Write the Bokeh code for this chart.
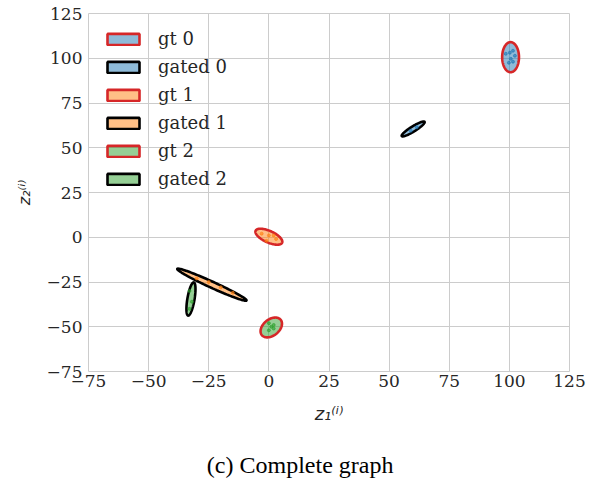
import numpy as np
from bokeh.plotting import figure
from bokeh.models import Legend, LegendItem, FixedTicker, LinearAxis
from bokeh.embed import file_html
from bokeh.resources import INLINE

# ellipse data (data space): centre, full major/minor axis, angle (deg)
labels = ["gt 0", "gated 0", "gt 1", "gated 1", "gt 2", "gated 2"]
ell_cx = [100.5, 60.0, 0.0, -23.7, 1.0, -32.4]
ell_cy = [100.6, 60.5, 0.3, -26.5, -50.4, -34.5]
ell_w = [7.0, 12.4, 13.0, 33.8, 12.0, 18.7]
ell_h = [16.8, 2.6, 6.0, 3.2, 7.6, 3.0]
ell_angle = [0.0, 40.6, -35.0, -31.6, 60.0, 82.9]
ell_cluster = [0, 0, 1, 1, 2, 2]
ell_edge = ["#d62728", "black", "#d62728", "black", "#d62728", "black"]

cluster_colors = ["#1f77b4", "#ff7f0e", "#2ca02c"]

# sample points
pts_x0 = [98.5, 100.2, 102.3, 100.6, 101.5, 99.8, 101.5, 59.0, 61.5]
pts_y0 = [102.5, 103.1, 101.4, 99.7, 98.1, 97.5, 104.2, 59.5, 61.5]
pts_x1 = [-3.0, 0.0, 3.0, -1.0, 2.0, -30.0, -20.0, -15.0, -25.0]
pts_y1 = [2.0, 1.0, -1.0, -2.0, 1.0, -23.0, -28.0, -31.0, -25.0]
pts_x2 = [0.0, 1.0, 2.0, 0.0, 2.0, -33.0, -32.0, -33.0]
pts_y2 = [-48.0, -50.0, -49.0, -52.0, -51.0, -30.0, -36.0, -40.0]

ticks = [-75, -50, -25, 0, 25, 50, 75, 100, 125]
tick_labels = ["\u221275", "\u221250", "\u221225", "0", "25", "50", "75", "100", "125"]
caption = "(c) Complete graph"
caption_x = 13  # horizontal centre of the caption, in x data units

p = figure(width=586, height=480, x_range=(-75, 125), y_range=(-75, 125),
           output_backend="svg", toolbar_location=None,
           min_border_left=88, min_border_right=17, min_border_top=13,
           min_border_bottom=108)
p.background_fill_color = "white"
p.border_fill_color = "white"
p.outline_line_color = "#cccccc"

for ax, lab in ((p.xaxis, "z\u2081\u207d\u2071\u207e"), (p.yaxis, "z\u2082\u207d\u2071\u207e")):
    ax.ticker = FixedTicker(ticks=ticks)
    ax.major_label_overrides = {t: l for t, l in zip(ticks, tick_labels)}
    ax.major_label_text_font = "DejaVu Serif"
    ax.major_label_text_font_size = "17px"
    ax.major_label_text_color = "#262626"
    ax.major_tick_out = 0
    ax.major_tick_in = 0
    ax.minor_tick_out = 0
    ax.minor_tick_in = 0
    ax.axis_line_color = None
    ax.axis_label = lab
    ax.axis_label_text_font = "DejaVu Sans"
    ax.axis_label_text_font_style = "italic"
    ax.axis_label_text_color = "#262626"
p.xaxis.major_label_standoff = 3
p.yaxis.major_label_standoff = 6
p.xaxis.axis_label_text_font_size = "18px"
p.xaxis.axis_label_standoff = 13
p.yaxis.axis_label_text_font_size = "16px"
p.yaxis.axis_label_standoff = 10

# caption as a tick label of an extra bare axis below the x axis
cap_axis = LinearAxis(ticker=FixedTicker(ticks=[caption_x]),
                      major_label_overrides={caption_x: caption},
                      major_label_text_font="Liberation Serif",
                      major_label_text_font_size="24px",
                      major_label_text_color="black",
                      major_label_standoff=25,
                      major_tick_out=0, major_tick_in=0,
                      minor_tick_out=0, minor_tick_in=0,
                      axis_line_color=None)
p.add_layout(cap_axis, "below")

p.grid.grid_line_color = "#cccccc"
p.grid.grid_line_width = 1
p.xgrid.ticker = FixedTicker(ticks=ticks)
p.ygrid.ticker = FixedTicker(ticks=ticks)

items = []
for i in range(len(labels)):
    a = np.deg2rad(ell_angle[i])
    t = np.linspace(0, 2 * np.pi, 120)
    xs = ell_cx[i] + ell_w[i] / 2 * np.cos(t) * np.cos(a) - ell_h[i] / 2 * np.sin(t) * np.sin(a)
    ys = ell_cy[i] + ell_w[i] / 2 * np.cos(t) * np.sin(a) + ell_h[i] / 2 * np.sin(t) * np.cos(a)
    r = p.patch(xs, ys, fill_color=cluster_colors[ell_cluster[i]], fill_alpha=0.5,
                line_color=ell_edge[i], line_width=2.6)
    items.append(LegendItem(label=labels[i], renderers=[r]))

for px, py, c in ((pts_x0, pts_y0, 0), (pts_x1, pts_y1, 1), (pts_x2, pts_y2, 2)):
    p.scatter(px, py, size=3, color=cluster_colors[c], alpha=0.6)

legend = Legend(items=items, location=(15, 182), margin=0, padding=0,
                background_fill_alpha=0, border_line_alpha=0,
                label_text_font="DejaVu Serif", label_text_font_size="18px",
                label_text_color="#262626",
                glyph_width=40, glyph_height=14, label_standoff=15,
                spacing=7, label_height=20)
p.add_layout(legend)

open("out.html", "w").write(file_html(p, INLINE))
